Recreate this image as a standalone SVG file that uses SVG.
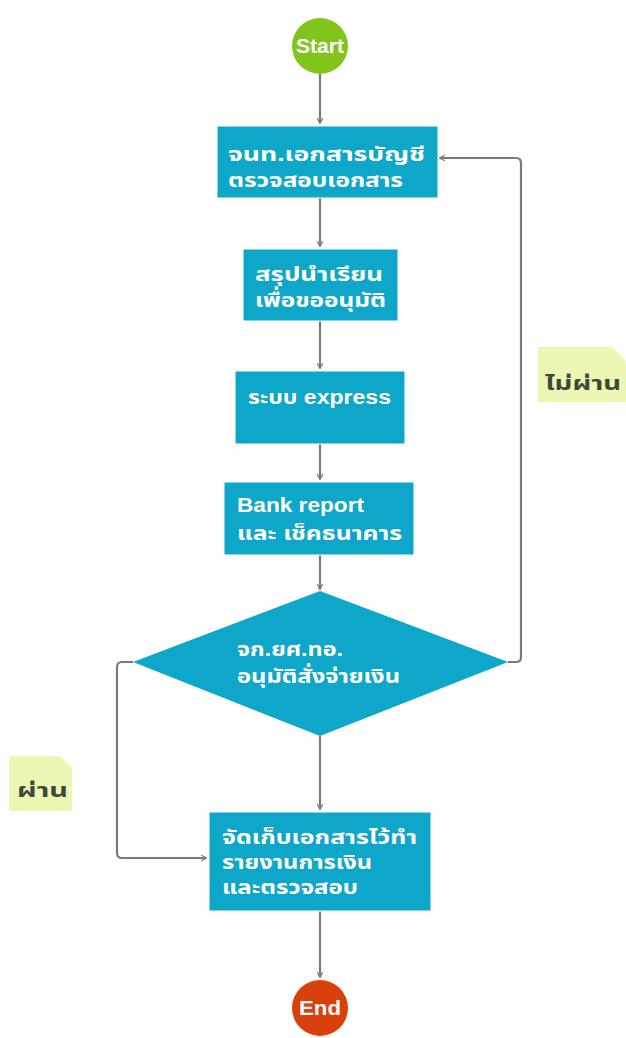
<svg xmlns="http://www.w3.org/2000/svg" width="626" height="1038" viewBox="0 0 626 1038">
<style>
.box{fill:#0ea7c9;stroke:#ffffff;stroke-width:1}
.t{font-family:"Liberation Sans","Noto Sans Thai","Noto Sans",sans-serif;font-weight:bold;font-size:20px;fill:#ffffff}
.c{fill:none;stroke:#7a7a7a;stroke-width:2.2}
.note{fill:#eef6b4}
.nt{font-family:"Liberation Sans","Noto Sans Thai","Noto Sans",sans-serif;font-weight:bold;font-size:20px;fill:#3a4a3a}
</style>
<defs>
<marker id="ah" viewBox="0 0 10 10" refX="9" refY="5" markerWidth="6" markerHeight="6" orient="auto" markerUnits="userSpaceOnUse">
<path d="M0,0 L10,5 L0,10" fill="none" stroke="#7a7a7a" stroke-width="2"/>
</marker>
</defs>
<rect width="626" height="1038" fill="#ffffff"/>
<g id="connectors">
<line class="c" x1="320" y1="74" x2="320" y2="123" marker-end="url(#ah)"/>
<line class="c" x1="320" y1="198" x2="320" y2="246" marker-end="url(#ah)"/>
<line class="c" x1="320" y1="321" x2="320" y2="368" marker-end="url(#ah)"/>
<line class="c" x1="320" y1="444" x2="320" y2="479" marker-end="url(#ah)"/>
<line class="c" x1="320" y1="555" x2="320" y2="589" marker-end="url(#ah)"/>
<line class="c" x1="320" y1="736" x2="320" y2="809" marker-end="url(#ah)"/>
<line class="c" x1="320" y1="911" x2="320" y2="977" marker-end="url(#ah)"/>
<path class="c" d="M508,662 L516,662 Q521,662 521,657 L521,163 Q521,158 516,158 L440,158" marker-end="url(#ah)"/>
<path class="c" d="M133,662 L122,662 Q117,662 117,667 L117,853 Q117,858 122,858 L206,858" marker-end="url(#ah)"/>
</g>
<g id="start">
<circle cx="320" cy="46" r="28" fill="#80c41c"/>
<text class="t" x="296" y="53" font-size="19" textLength="48" lengthAdjust="spacingAndGlyphs">Start</text>
</g>
<g id="n1">
<rect class="box" x="217" y="126" width="221" height="72"/>
<text class="t" x="228" y="161" textLength="197" lengthAdjust="spacingAndGlyphs">จนท.เอกสารบัญชี</text>
<text class="t" x="228" y="187" textLength="175" lengthAdjust="spacingAndGlyphs">ตรวจสอบเอกสาร</text>
</g>
<g id="n2">
<rect class="box" x="243" y="249" width="155" height="72"/>
<text class="t" x="255" y="281" textLength="128" lengthAdjust="spacingAndGlyphs">สรุปนำเรียน</text>
<text class="t" x="255" y="307" textLength="131" lengthAdjust="spacingAndGlyphs">เพื่อขออนุมัติ</text>
</g>
<g id="n3">
<rect class="box" x="235" y="371" width="170" height="73"/>
<text class="t" x="248" y="404" textLength="143" lengthAdjust="spacingAndGlyphs">ระบบ express</text>
</g>
<g id="n4">
<rect class="box" x="224" y="482" width="190" height="73"/>
<text class="t" x="237" y="512" textLength="127" lengthAdjust="spacingAndGlyphs">Bank report</text>
<text class="t" x="237" y="540" textLength="165" lengthAdjust="spacingAndGlyphs">และ เช็คธนาคาร</text>
</g>
<g id="decision">
<polygon points="320,591 508,662 320,736 133,662" fill="#0ea7c9"/>
<text class="t" x="237" y="656" textLength="106" lengthAdjust="spacingAndGlyphs">จก.ยศ.ทอ.</text>
<text class="t" x="237" y="683" textLength="163" lengthAdjust="spacingAndGlyphs">อนุมัติสั่งจ่ายเงิน</text>
</g>
<g id="n5">
<rect class="box" x="209" y="812" width="222" height="99"/>
<text class="t" x="222" y="844" textLength="195" lengthAdjust="spacingAndGlyphs">จัดเก็บเอกสารไว้ทำ</text>
<text class="t" x="222" y="869" textLength="150" lengthAdjust="spacingAndGlyphs">รายงานการเงิน</text>
<text class="t" x="222" y="894" textLength="136" lengthAdjust="spacingAndGlyphs">และตรวจสอบ</text>
</g>
<g id="end">
<circle cx="320" cy="1008" r="28" fill="#d9400c"/>
<text class="t" x="299" y="1015" font-size="19" textLength="42" lengthAdjust="spacingAndGlyphs">End</text>
</g>
<g id="note-fail">
<path class="note" d="M538,347 L612,347 L626,361 L626,402 L538,402 Z"/>
<text class="nt" x="545" y="390" textLength="76" lengthAdjust="spacingAndGlyphs">ไม่ผ่าน</text>
</g>
<g id="note-pass">
<path class="note" d="M9,756 L60,756 L72,768 L72,811 L9,811 Z"/>
<text class="nt" x="17" y="797" textLength="51" lengthAdjust="spacingAndGlyphs">ผ่าน</text>
</g>
</svg>
